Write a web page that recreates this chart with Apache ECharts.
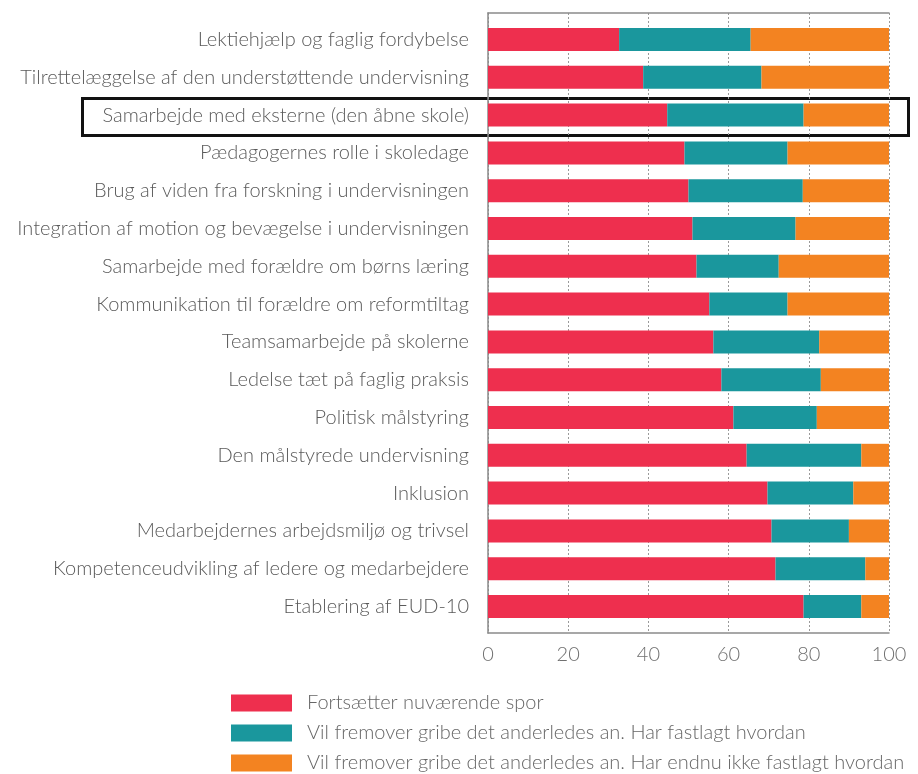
<!DOCTYPE html>
<html><head><meta charset="utf-8">
<script src="https://cdn.jsdelivr.net/npm/echarts@6/dist/echarts.min.js"></script>
<style>html,body{margin:0;padding:0;background:#fff}#c{width:918px;height:774px}</style>
</head><body><div id="c"></div>
<script>
const categories = [
  "Lektiehjælp og faglig fordybelse",
  "Tilrettelæggelse af den understøttende undervisning",
  "Samarbejde med eksterne (den åbne skole)",
  "Pædagogernes rolle i skoledage",
  "Brug af viden fra forskning i undervisningen",
  "Integration af motion og bevægelse i undervisningen",
  "Samarbejde med forældre om børns læring",
  "Kommunikation til forældre om reformtiltag",
  "Teamsamarbejde på skolerne",
  "Ledelse tæt på faglig praksis",
  "Politisk målstyring",
  "Den målstyrede undervisning",
  "Inklusion",
  "Medarbejdernes arbejdsmiljø og trivsel",
  "Kompetenceudvikling af ledere og medarbejdere",
  "Etablering af EUD-10"
];
const seriesNames = [
  "Fortsætter nuværende spor",
  "Vil fremover gribe det anderledes an. Har fastlagt hvordan",
  "Vil fremover gribe det anderledes an. Har endnu ikke fastlagt hvordan"
];
const fortsaetter = [32.7, 38.7, 44.7, 49.0, 50.0, 51.0, 52.0, 55.2, 56.2, 58.2, 61.2, 64.5, 69.7, 70.7, 71.7, 78.7];
const fastlagt    = [32.8, 29.5, 34.0, 25.7, 28.5, 25.7, 20.5, 19.5, 26.4, 24.8, 20.8, 28.6, 21.4, 19.3, 22.4, 14.4];
const ikkeFastlagt= [34.5, 31.8, 21.3, 25.3, 21.5, 23.3, 27.5, 25.3, 17.4, 17.0, 18.0,  6.9,  8.9, 10.0,  5.9,  6.9];
const xTicks = [0, 20, 40, 60, 80, 100];

const colors = ["#EE2F4E", "#1A979D", "#F38321"];
const font = "Lato";
const chart = echarts.init(document.getElementById('c'), null, {renderer: 'canvas'});
const values = [fortsaetter, fastlagt, ikkeFastlagt];
chart.setOption({
  animation: false,
  textStyle: {fontFamily: font},
  grid: [
    {left: 488, right: 29, top: 13, bottom: 141},
    {left: 488, right: 29, top: 20.6, bottom: 148.6}
  ],
  xAxis: [
    {gridIndex: 0, type: 'value', min: xTicks[0], max: xTicks[xTicks.length-1], interval: 20,
     axisLine: {show: true, lineStyle: {color: '#8a8a8a', width: 1.5}},
     axisTick: {show: false},
     axisLabel: {fontSize: 20, color: '#707070', margin: 12, fontFamily: font, fontWeight: 300},
     splitLine: {show: true, lineStyle: {color: '#9a9a9a', type: [2, 2], width: 1}}},
    {gridIndex: 0, type: 'value', position: 'top', min: 0, max: 100,
     axisLine: {show: true, onZero: false, lineStyle: {color: '#8a8a8a', width: 1.5}},
     axisTick: {show: false}, axisLabel: {show: false}, splitLine: {show: false}},
    {gridIndex: 1, type: 'value', min: 0, max: 100, show: false}
  ],
  yAxis: [
    {gridIndex: 0, type: 'value', min: 0, max: 1,
     axisLine: {show: true, lineStyle: {color: '#8a8a8a', width: 1.5}},
     axisTick: {show: false}, axisLabel: {show: false}, splitLine: {show: false}},
    {gridIndex: 1, type: 'category', data: categories, inverse: true,
     axisLine: {show: false}, axisTick: {show: false},
     axisLabel: {fontSize: 20, color: '#5a5a5a', margin: 19, fontFamily: font, fontWeight: 300}}
  ],
  legend: {
    orient: 'vertical', left: 231, top: 693, height: 120, padding: 0,
    icon: 'rect', itemWidth: 61, itemHeight: 17, itemGap: 10,
    textStyle: {fontSize: 20, lineHeight: 20, color: '#666', fontFamily: font, fontWeight: 300, padding: [0, 0, 0, 10]},
    data: seriesNames
  },
  series: seriesNames.map((n, i) => ({
    name: n, type: 'bar', stack: 'total', xAxisIndex: 2, yAxisIndex: 1,
    barWidth: 23, itemStyle: {color: colors[i]}, data: values[i]
  })),
  graphic: [{
    type: 'rect', left: 80, top: 96, shape: {width: 826, height: 37},
    style: {fill: 'none', stroke: '#111', lineWidth: 3}
  }]
});
</script></body></html>
